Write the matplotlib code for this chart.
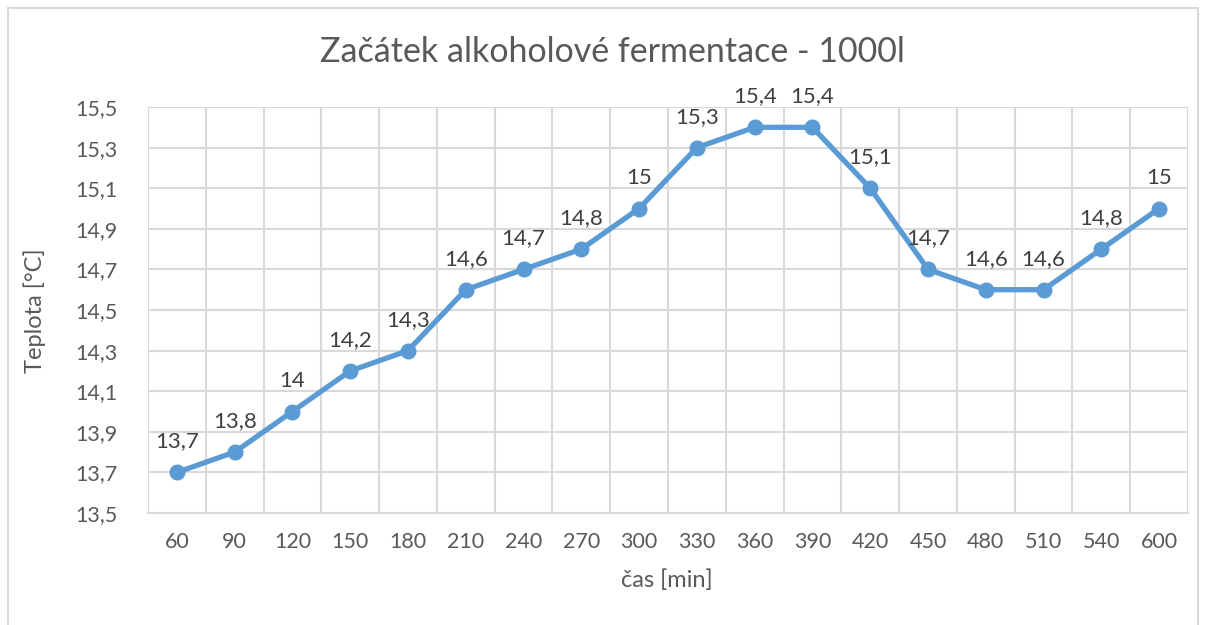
import matplotlib.pyplot as plt
from matplotlib.patches import Rectangle

# data
cas = ["60", "90", "120", "150", "180", "210", "240", "270", "300", "330",
       "360", "390", "420", "450", "480", "510", "540", "600"]
teplota = [13.7, 13.8, 14.0, 14.2, 14.3, 14.6, 14.7, 14.8, 15.0, 15.3,
           15.4, 15.4, 15.1, 14.7, 14.6, 14.6, 14.8, 15.0]
y_ticks = [13.5, 13.7, 13.9, 14.1, 14.3, 14.5, 14.7, 14.9, 15.1, 15.3, 15.5]


def cz(v):
    s = ("%g" % v)
    return s.replace(".", ",")


plt.rcParams['font.family'] = ['Lato', 'DejaVu Sans']
text_col = "#595959"
grid_col = "#D9D9D9"
blue = "#5B9BD5"

fig = plt.figure(figsize=(12.05, 6.25), dpi=100)
W, H = 1205, 625
ax = fig.add_axes([148 / W, 1 - 513 / H, (1188 - 148) / W, (513 - 107) / H])

# chart border
fig.patches.append(Rectangle((8 / W, -0.01), 1190 / W, 1 - 8 / H + 0.01,
                             transform=fig.transFigure, fill=False,
                             edgecolor=grid_col, linewidth=1.5))

x = list(range(len(cas)))
ax.plot(x, teplota, color=blue, linewidth=3.8, marker="o", markersize=10.5,
        zorder=3, clip_on=False)
for xi, v in zip(x, teplota):
    ax.annotate(cz(v), (xi, v), xytext=(0, 15), textcoords="offset points",
                ha="center", va="bottom", fontsize=16, color="#404040")

ax.set_xlim(-0.5, len(cas) - 0.5)
ax.set_ylim(13.5, 15.5)
ax.set_yticks(y_ticks)
ax.set_yticklabels([cz(t) for t in y_ticks])
ax.set_xticks(x)
ax.set_xticklabels(cas)
ax.set_xticks([i - 0.5 for i in range(len(cas) + 1)], minor=True)

ax.grid(False)
ax.grid(True, axis="y", which="major", color=grid_col, linewidth=1.5)
ax.grid(True, axis="x", which="minor", color=grid_col, linewidth=1.5)
ax.tick_params(axis="both", which="both", length=0, labelsize=15.5,
               labelcolor=text_col)
ax.tick_params(axis="y", pad=22)
ax.tick_params(axis="x", pad=14)
for s in ax.spines.values():
    s.set_visible(False)
ax.spines["bottom"].set_visible(True)
ax.spines["bottom"].set_color(grid_col)
ax.spines["bottom"].set_linewidth(1.5)
ax.set_axisbelow(True)

fig.text(612 / W, 1 - 52 / H, "Začátek alkoholové fermentace - 1000l",
         ha="center", va="center", fontsize=24.5, color=text_col)
fig.text(35 / W, 1 - 311 / H, "Teplota [°C]", rotation=90, ha="center",
         va="center", fontsize=17, color=text_col)
fig.text(667 / W, 1 - 580 / H, "čas [min]", ha="center", va="center",
         fontsize=17, color=text_col)

fig.savefig("out.png", dpi=100)
